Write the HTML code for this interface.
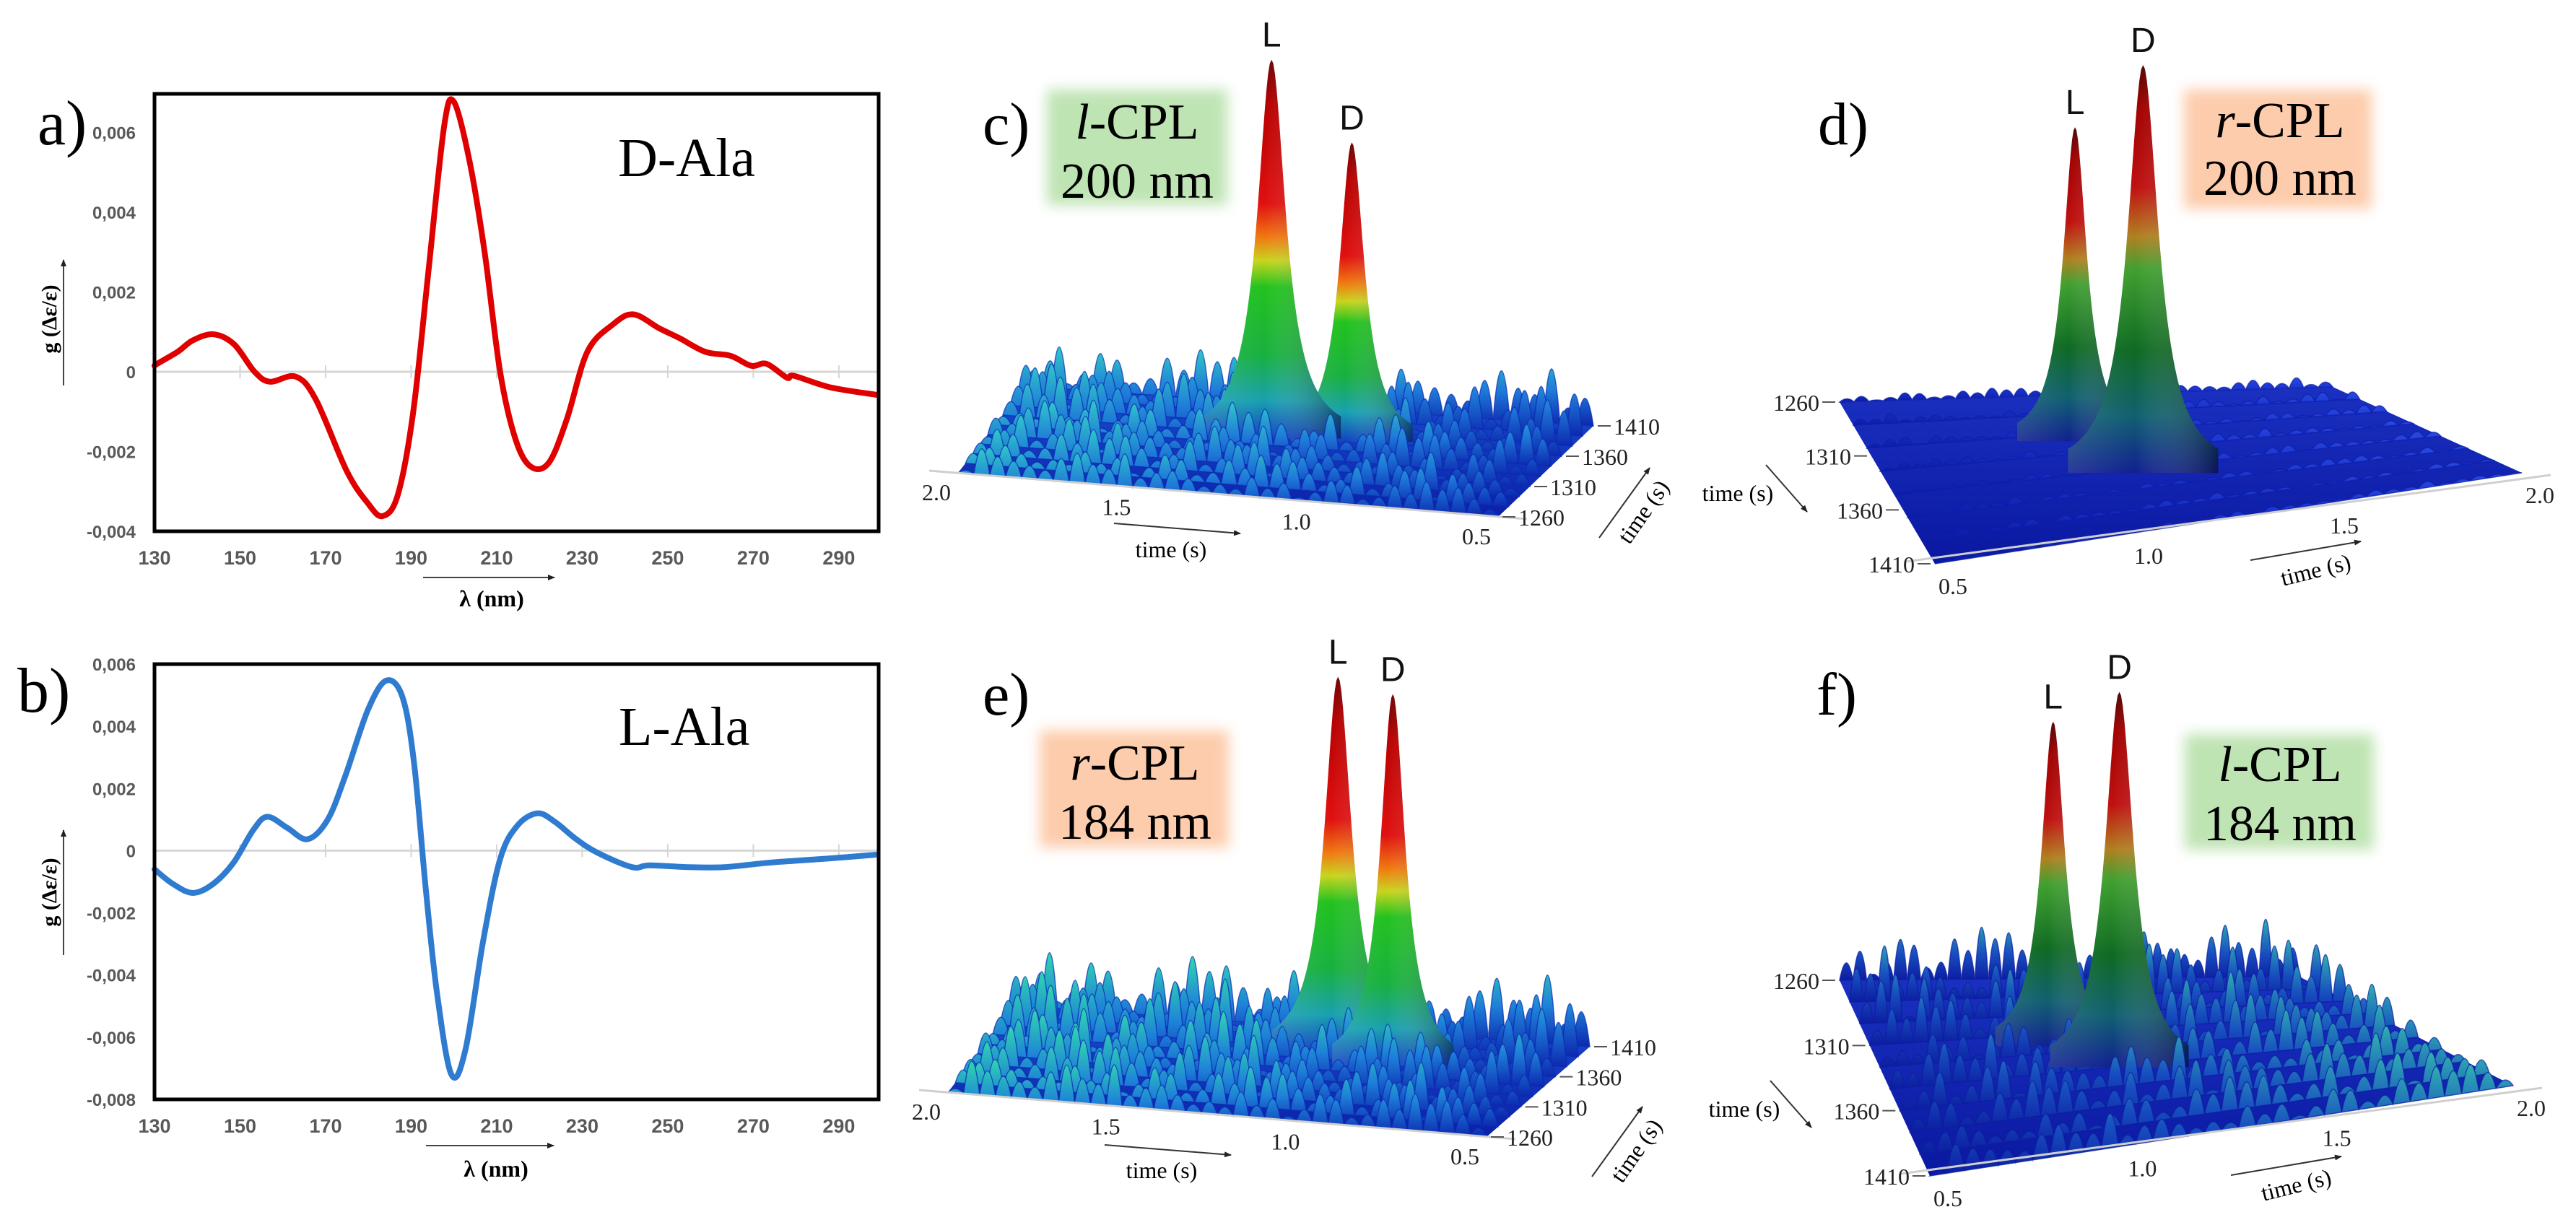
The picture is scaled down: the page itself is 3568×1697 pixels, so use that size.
<!DOCTYPE html>
<html><head><meta charset="utf-8"><title>CD spectra and CPL chromatograms</title>
<style>
html,body{margin:0;padding:0;background:#fff;}
svg{display:block;}
.serif{font-family:"Liberation Serif",serif;}
.sans{font-family:"Liberation Sans",sans-serif;}
</style></head>
<body>
<svg id="fig" width="3568" height="1697" viewBox="0 0 3568 1697">
<defs>
<filter id="soft" x="-20%" y="-20%" width="140%" height="140%"><feGaussianBlur stdDeviation="9"/></filter>
<linearGradient id="surfBlue" x1="0" y1="0" x2="0" y2="1"><stop offset="0" stop-color="#1a4fd0"/><stop offset="1" stop-color="#0a20a8"/></linearGradient>
<linearGradient id="surfDark" x1="0" y1="0" x2="0" y2="1"><stop offset="0" stop-color="#1a30c0"/><stop offset="1" stop-color="#0a18a0"/></linearGradient>
<linearGradient id="shade" x1="0" y1="0" x2="1" y2="0"><stop offset="0" stop-color="#fff" stop-opacity="0.12"/><stop offset="0.45" stop-color="#fff" stop-opacity="0"/><stop offset="1" stop-color="#000" stop-opacity="0.4"/></linearGradient>
<marker id="arr" viewBox="0 0 10 10" refX="9" refY="5" markerWidth="5" markerHeight="5" orient="auto"><path d="M0,1 L10,5 L0,9 z" fill="#222"/></marker>
</defs>

<g>
 <text class="serif" x="52" y="200" font-size="88">a)</text>
 <text class="serif" x="856" y="244" font-size="76">D-Ala</text>
 <text class="serif" font-weight="bold" font-size="30" transform="translate(78,442) rotate(-90)" text-anchor="middle">g (Δε/ε)</text>
 <line x1="88" y1="534" x2="88" y2="360" stroke="#444" stroke-width="2" marker-end="url(#arr)"/>
 <line x1="586" y1="800" x2="768" y2="800" stroke="#444" stroke-width="2" marker-end="url(#arr)"/>
 <text class="serif" font-weight="bold" font-size="32" x="681" y="840" text-anchor="middle">λ (nm)</text>
</g>
<g>
 <text class="serif" x="24" y="986" font-size="88">b)</text>
 <text class="serif" x="857" y="1032" font-size="76">L-Ala</text>
 <text class="serif" font-weight="bold" font-size="30" transform="translate(78,1236) rotate(-90)" text-anchor="middle">g (Δε/ε)</text>
 <line x1="88" y1="1323" x2="88" y2="1150" stroke="#444" stroke-width="2" marker-end="url(#arr)"/>
 <line x1="590" y1="1587" x2="767" y2="1587" stroke="#444" stroke-width="2" marker-end="url(#arr)"/>
 <text class="serif" font-weight="bold" font-size="32" x="687" y="1630" text-anchor="middle">λ (nm)</text>
</g>

<g id="cdA"></g>
<g id="cdB"></g>

<g id="p3c"></g>
<g id="p3d"></g>
<g id="p3e"></g>
<g id="p3f"></g>

<g>
 <text class="serif" x="1361" y="200" font-size="84">c)</text>
 <rect x="1450" y="124" width="250" height="160" fill="#bfe4b4" filter="url(#soft)"/>
 <text class="serif" x="1575" y="192" font-size="70" text-anchor="middle"><tspan font-style="italic">l</tspan>-CPL</text>
 <text class="serif" x="1575" y="274" font-size="70" text-anchor="middle">200 nm</text>
 <text class="serif" x="1622" y="772" font-size="32" text-anchor="middle">time (s)</text>
 <line x1="1543" y1="725" x2="1718" y2="739" stroke="#333" stroke-width="2" marker-end="url(#arr)"/>
 <text class="serif" font-size="32" text-anchor="middle" transform="translate(2285,715) rotate(-55)">time (s)</text>
 <line x1="2215" y1="745" x2="2285" y2="648" stroke="#333" stroke-width="2" marker-end="url(#arr)"/>
</g>
<g>
 <text class="serif" x="2518" y="200" font-size="84">d)</text>
 <rect x="3025" y="124" width="260" height="165" fill="#fdccac" filter="url(#soft)"/>
 <text class="serif" x="3158" y="190" font-size="70" text-anchor="middle"><tspan font-style="italic">r</tspan>-CPL</text>
 <text class="serif" x="3158" y="270" font-size="70" text-anchor="middle">200 nm</text>
 <text class="serif" x="2407" y="694" font-size="32" text-anchor="middle">time (s)</text>
 <line x1="2446" y1="644" x2="2503" y2="709" stroke="#333" stroke-width="2" marker-end="url(#arr)"/>
 <text class="serif" font-size="32" text-anchor="middle" transform="translate(3210,800) rotate(-14)">time (s)</text>
 <line x1="3117" y1="776" x2="3270" y2="750" stroke="#333" stroke-width="2" marker-end="url(#arr)"/>
</g>
<g>
 <text class="serif" x="1361" y="990" font-size="84">e)</text>
 <rect x="1440" y="1012" width="262" height="162" fill="#fdccac" filter="url(#soft)"/>
 <text class="serif" x="1572" y="1080" font-size="70" text-anchor="middle"><tspan font-style="italic">r</tspan>-CPL</text>
 <text class="serif" x="1572" y="1162" font-size="70" text-anchor="middle">184 nm</text>
 <text class="serif" x="1609" y="1632" font-size="32" text-anchor="middle">time (s)</text>
 <line x1="1530" y1="1586" x2="1705" y2="1600" stroke="#333" stroke-width="2" marker-end="url(#arr)"/>
 <text class="serif" font-size="32" text-anchor="middle" transform="translate(2275,1600) rotate(-55)">time (s)</text>
 <line x1="2205" y1="1630" x2="2275" y2="1533" stroke="#333" stroke-width="2" marker-end="url(#arr)"/>
</g>
<g>
 <text class="serif" x="2516" y="990" font-size="84">f)</text>
 <rect x="3026" y="1017" width="262" height="160" fill="#bfe4b4" filter="url(#soft)"/>
 <text class="serif" x="3158" y="1082" font-size="70" text-anchor="middle"><tspan font-style="italic">l</tspan>-CPL</text>
 <text class="serif" x="3158" y="1164" font-size="70" text-anchor="middle">184 nm</text>
 <text class="serif" x="2416" y="1547" font-size="32" text-anchor="middle">time (s)</text>
 <line x1="2452" y1="1497" x2="2509" y2="1562" stroke="#333" stroke-width="2" marker-end="url(#arr)"/>
 <text class="serif" font-size="32" text-anchor="middle" transform="translate(3183,1652) rotate(-14)">time (s)</text>
 <line x1="3090" y1="1628" x2="3243" y2="1602" stroke="#333" stroke-width="2" marker-end="url(#arr)"/>
</g>
</svg>

<script>
// ---------- CD spectra data (g in units of 1e-3) ----------
const wlD = [130,130.6,135.4,139,143.8,148.6,153.4,157,163,167.7,174.9,179.7,183.3,186.9,190.5,194,197.7,200,203.7,207.2,210.8,214.4,218,222.2,226.4,231.2,237.2,242,248,252.8,258.8,264.7,269.5,273.1,277.9,279.5,288,299];
const gD  = [0.15,0.2,0.5,0.79,0.94,0.69,0,-0.25,-0.12,-0.69,-2.48,-3.27,-3.62,-3.08,-1.0,2.48,6.15,6.77,5.26,2.98,0,-1.69,-2.38,-2.28,-1.19,0.5,1.19,1.44,1.09,0.84,0.5,0.4,0.15,0.2,-0.15,-0.1,-0.39,-0.58];
const wlL = [130,134.3,139,143.7,148.4,153.1,156.4,161.1,165.8,170.5,174.6,179.9,184.2,188,190.7,193.4,196,199.4,202.7,206.8,210.8,214.8,219.5,223.6,228.3,233.6,241.7,245.7,255,263.2,272.6,279.3,288.7,298.7];
const gL  = [-0.6,-1.07,-1.36,-1.07,-0.4,0.67,1.09,0.73,0.37,1.0,2.4,4.53,5.47,4.93,2.8,-1.2,-4.53,-7.2,-6.4,-2.93,-0.27,0.8,1.2,0.93,0.4,-0.07,-0.53,-0.47,-0.53,-0.53,-0.4,-0.33,-0.24,-0.13];
const xTicks = [130,150,170,190,210,230,250,270,290];
const yTicksA = [6,4,2,0,-2,-4];
const yTicksB = [6,4,2,0,-2,-4,-6,-8];

// ---------- 3D chromatogram data ----------
const tTicks = [0.5,1.0,1.5,2.0];
const uTicks = [1260,1310,1360,1410];
const peakNames = ['L','D'];
const peakTc = [1.27,1.06], peakUc = [1354,1358], peakHc = [105,83];
const peakTd = [1.08,1.17], peakUd = [1311,1351], peakHd = [87,113];
const peakTe = [1.10,0.93], peakUe = [1373,1358], peakHe = [104,103];
const peakTf = [1.02,1.15], peakUf = [1321,1344], peakHf = [90,104];
const noise = [0.3,0.7,0.2,0.5,0.9,0.4,0.1,0.6,0.8,0.3,0.5,0.2,0.7,1.0,0.4,0.6,0.3,0.8,0.2,0.5,0.9,0.3,0.6,0.1,0.7,0.4,0.8,0.5,0.2,0.6,0.9,0.3,0.5,0.7,0.2,0.4,0.8,0.6,0.3,0.5];

const svg = document.getElementById('fig');
const NS = svg.namespaceURI;
function mk(tag, attrs, parent){ const el=document.createElementNS(NS,tag); for(const k in attrs) el.setAttribute(k, attrs[k]); parent.appendChild(el); return el; }

function smoothPath(pts){
  let d='M'+pts[0][0].toFixed(1)+','+pts[0][1].toFixed(1);
  for(let i=0;i<pts.length-1;i++){
    const p0=pts[Math.max(0,i-1)], p1=pts[i], p2=pts[i+1], p3=pts[Math.min(pts.length-1,i+2)];
    const c1=[p1[0]+(p2[0]-p0[0])/6, p1[1]+(p2[1]-p0[1])/6];
    const c2=[p2[0]-(p3[0]-p1[0])/6, p2[1]-(p3[1]-p1[1])/6];
    d+=' C'+c1[0].toFixed(1)+','+c1[1].toFixed(1)+' '+c2[0].toFixed(1)+','+c2[1].toFixed(1)+' '+p2[0].toFixed(1)+','+p2[1].toFixed(1);
  }
  return d;
}

function drawCD(gid, box, ymin, ymax, xs, ys, color, yTicks, nm){
  const g = document.getElementById(gid);
  const X = v => box.l + (v-130)/(299.3-130)*(box.r-box.l);
  const Y = v => box.b - (v-ymin)/(ymax-ymin)*(box.b-box.t);
  const z = mk('line',{x1:box.l,x2:box.r,y1:Y(0),y2:Y(0),stroke:'#d6d6d6','stroke-width':3},g);
  
  
  xTicks.forEach(t=>{
    const tk = mk('line',{x1:X(t),x2:X(t),y1:Y(0)-9,y2:Y(0)+9,stroke:'#d6d6d6','stroke-width':2},g);
    
    
    const tl = mk('text',{x:X(t),y:box.b+46,'text-anchor':'middle','font-size':27,'font-weight':'bold',fill:'#595959','font-family':'Liberation Sans, sans-serif'},g);
    tl.textContent = String(t);
    
    
  });
  yTicks.forEach(t=>{
    const tl = mk('text',{x:box.l-26,y:Y(t)+9,'text-anchor':'end','font-size':24,'font-weight':'bold',fill:'#595959','font-family':'Liberation Sans, sans-serif'},g);
    tl.textContent = t===0 ? '0' : (t<0?'-':'')+'0,00'+Math.abs(t);
    
    
  });
  const pts = xs.map((x,i)=>[X(x),Y(ys[i])]);
  const ln = mk('path',{d:smoothPath(pts),fill:'none',stroke:color,'stroke-width':8,'stroke-linejoin':'round','stroke-linecap':'round'},g);
  
  
  const fr = mk('rect',{x:box.l,y:box.t,width:box.r-box.l,height:box.b-box.t,fill:'none',stroke:'#000','stroke-width':5},g);
  
  
}
drawCD('cdA',{l:214,r:1217,t:130,b:736},-4,6.97,wlD,gD,'#e00000',yTicksA,'d-ala');
drawCD('cdB',{l:214,r:1217,t:920,b:1523},-8,6,wlL,gL,'#2f7bd0',yTicksB,'l-ala');

let gradN = 0;
function panel3D(gid, P, pt, pu, ph, nm){
  const g = document.getElementById(gid);
  const sOf = t => P.tRev ? (2.0-t)/1.5 : (t-0.5)/1.5;
  const vOf = u => P.uRev ? (1410-u)/150 : (u-1260)/150;
  const proj = (s,v) => [
    (1-s)*(1-v)*P.FL[0] + s*(1-v)*P.FR[0] + s*v*P.BR[0] + (1-s)*v*P.BL[0],
    (1-s)*(1-v)*P.FL[1] + s*(1-v)*P.FR[1] + s*v*P.BR[1] + (1-s)*v*P.BL[1]];
  const defs = svg.querySelector('defs');
  const base = mk('polygon',{points:[P.FL,P.FR,P.BR,P.BL].map(p=>p.join(',')).join(' '),fill:P.dark?'url(#surfDark)':'url(#surfBlue)'},g);
  
  
  const ng = mk('linearGradient',{id:'ng'+gid,x1:0,y1:0,x2:0,y2:1},defs);
  mk('stop',{offset:0,'stop-color':P.nTop},ng); mk('stop',{offset:0.55,'stop-color':P.nMid},ng); mk('stop',{offset:1,'stop-color':P.nBase},ng);
  const items = [];
  for(let r=0;r<P.rows;r++){ items.push({type:'row',v:1-r/(P.rows-1),r:r}); }
  pt.forEach((t,i)=>items.push({type:'peak',v:vOf(pu[i]),i:i}));
  items.sort((a,b)=>b.v-a.v);
  const M = 34;
  items.forEach(it=>{
    if(it.type==='row'){
      const st = proj(0,it.v);
      let d='M'+st[0].toFixed(1)+','+st[1].toFixed(1);
      for(let i=0;i<M;i++){
        const b = proj((i+0.5)/M,it.v), e = proj((i+1)/M,it.v);
        const h = P.amp*noise[(i*3+it.r*7)%noise.length]*(0.6+0.4*it.v);
        d+=' Q'+b[0].toFixed(1)+','+(b[1]-2*h).toFixed(1)+' '+e[0].toFixed(1)+','+e[1].toFixed(1);
      }
      d+=' Z';
      const row = mk('path',{d:d,fill:'url(#ng'+gid+')',stroke:P.nBase,'stroke-width':1.5,'stroke-opacity':0.7},g);
      
      
    } else {
      const i = it.i;
      const c = proj(sOf(pt[i]), vOf(pu[i]));
      const H = ph[i]*P.zs, gam = P.gam[i];
      const id = 'pg'+(gradN++);
      const lg = mk('linearGradient',{id:id,gradientUnits:'userSpaceOnUse',x1:0,x2:0,y1:c[1]-H,y2:c[1]},defs);
      P.stops.forEach(s=>mk('stop',{offset:s[0],'stop-color':s[1]},lg));
      let d='M'+(c[0]-4*gam).toFixed(1)+','+c[1].toFixed(1);
      for(let k=-40;k<=40;k++){
        const dx = k/10*gam;
        const y = c[1] - H/(1+(dx/gam)*(dx/gam));
        d+=' L'+(c[0]+dx).toFixed(1)+','+y.toFixed(1);
      }
      d+=' L'+(c[0]+4*gam).toFixed(1)+','+c[1].toFixed(1)+' Z';
      const pk = mk('path',{d:d,fill:'url(#'+id+')'},g);
      
      
      const sh = mk('path',{d:d,fill:'url(#shade)'},g);
      
      
      const lb = mk('text',{x:c[0],y:c[1]-H-18,'text-anchor':'middle','font-size':48,'font-family':'Liberation Sans, sans-serif',fill:'#111'},g);
      lb.textContent = peakNames[i];
      
      
    }
  });
  const a0 = proj(0,0), a1 = proj(1,0);
  const ax = mk('line',{x1:a0[0]-40,y1:a0[1]-3,x2:a1[0]+40,y2:a1[1]+3,stroke:'#cfcfcf','stroke-width':3},g);
  
  
  tTicks.forEach(t=>{
    const p = proj(sOf(t),0);
    const tl = mk('text',{x:p[0]+P.tOff[0],y:p[1]+P.tOff[1]+10,'text-anchor':'middle','font-size':32,'font-family':'Liberation Serif, serif',fill:'#222'},g);
    tl.textContent = t.toFixed(1);
    
    
  });
  uTicks.forEach(u=>{
    const p = P.uRev ? proj(0,vOf(u)) : proj(1,vOf(u));
    const dir = P.uRev ? -1 : 1;
    const tk = mk('line',{x1:p[0]+dir*6,y1:p[1],x2:p[0]+dir*24,y2:p[1],stroke:'#555','stroke-width':2},g);
    
    
    const tl = mk('text',{x:p[0]+dir*28,y:p[1]+12,'text-anchor':P.uRev?'end':'start','font-size':32,'font-family':'Liberation Serif, serif',fill:'#222'},g);
    tl.textContent = String(u);
    
    
  });
}

const brightStops = [[0,'#6a0000'],[0.12,'#b80000'],[0.38,'#e01010'],[0.47,'#f07a10'],[0.53,'#c8d41e'],[0.6,'#22c21e'],[0.78,'#18b040'],[0.9,'#18a0b0'],[1,'#1040c0']];
const darkStops = [[0,'#500000'],[0.1,'#a00000'],[0.3,'#c01010'],[0.42,'#b08020'],[0.5,'#40a030'],[0.7,'#0e6a22'],[0.86,'#106070'],[1,'#102090']];

panel3D('p3c',{FL:[1327,655],FR:[2075,716],BR:[2207,590],BL:[1420,535],tRev:true,uRev:false,zs:5,gam:[24,21],rows:10,amp:75,nTop:'#30c8c8',nMid:'#1e78d8',nBase:'#0c28b0',stops:brightStops,tOff:[-30,28]},peakTc,peakUc,peakHc,'panel-c');
panel3D('p3d',{FL:[2680,781],FR:[3493,655],BR:[3231,536],BL:[2548,557],tRev:false,uRev:true,zs:5,gam:[20,26],rows:8,amp:14,nTop:'#2848e0',nMid:'#1830c8',nBase:'#0c1ca8',stops:darkStops,tOff:[25,32],dark:true},peakTd,peakUd,peakHd,'panel-d');
panel3D('p3e',{FL:[1313,1513],FR:[2059,1575],BR:[2202,1450],BL:[1406,1393],tRev:true,uRev:false,zs:5,gam:[23,21],rows:10,amp:95,nTop:'#30d8b0',nMid:'#1e80d8',nBase:'#0c28b0',stops:brightStops,tOff:[-30,28]},peakTe,peakUe,peakHe,'panel-e');
panel3D('p3f',{FL:[2673,1629],FR:[3481,1504],BR:[3185,1353],BL:[2548,1358],tRev:false,uRev:true,zs:5,gam:[20,24],rows:10,amp:80,nTop:'#30b0b0',nMid:'#1850c0',nBase:'#0c1ca0',stops:darkStops,tOff:[25,32],dark:true},peakTf,peakUf,peakHf,'panel-f');
</script>
</body></html>
